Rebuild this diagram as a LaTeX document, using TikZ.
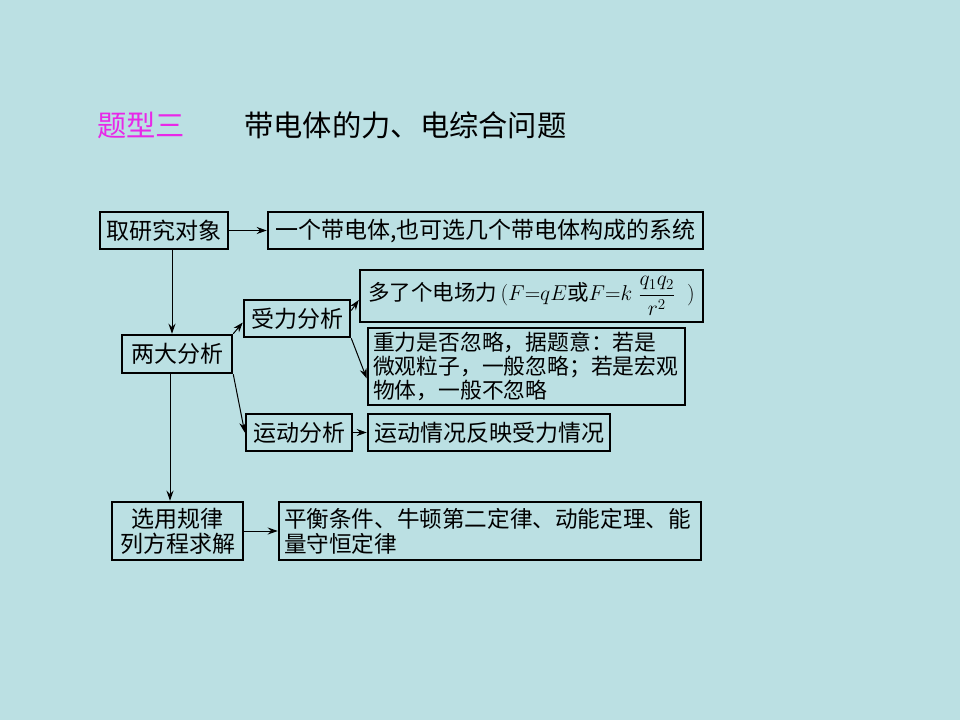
\RequirePackage{fix-cm}
\documentclass[tikz,border=0pt]{standalone}
\usepackage{amsmath}
\usepackage[no-math]{fontspec}
\setmainfont{Noto Sans CJK SC}
\usetikzlibrary{arrows.meta}
\definecolor{bg}{RGB}{187,224,227}
\definecolor{mag}{RGB}{232,40,232}
\begin{document}
\begin{tikzpicture}[x=1pt,y=-1pt,
  bx/.style={draw, line width=2.5pt, inner xsep=5pt, inner ysep=0pt, font=\fontsize{23}{25}\selectfont},
  arr/.style={line width=1pt, -{Stealth[length=10pt,width=7pt]}},
  ttl/.style={anchor=west, inner sep=0pt, font=\fontsize{29.3}{30}\selectfont}]
\fill[bg] (0,0) rectangle (960,720);
\useasboundingbox (0,0) rectangle (960,720);

\node[ttl, text=mag] (t1) at (97,125) {题型三};
\node[ttl] (t2) at (244,125) {带电体的力、电综合问题};

\node[bx, minimum width=128pt, minimum height=37pt] (a) at (164,230.5) {取研究对象};
\node[bx, minimum width=435pt, minimum height=37pt] (b) at (485.5,230.5) {一个带电体,也可选几个带电体构成的系统};
\node[bx, minimum width=110pt, minimum height=38pt] (c) at (177,354) {两大分析};
\node[bx, minimum width=106pt, minimum height=37pt] (d) at (297,318.5) {受力分析};
\node[bx, minimum width=343pt, minimum height=52pt, inner xsep=3pt, text width=335pt, align=left,
  font=\fontsize{21.5}{25}\selectfont] (e) at (531.5,296)
  {\hspace*{4pt}多了个电场力\,$(F{=}qE\text{或}F{=}k\;\dfrac{q_1q_2}{r^2}\;\;)$};
\node[bx, minimum width=317pt, minimum height=77pt, text width=307pt, align=left,
  font=\fontsize{21.8}{24}\selectfont] (f) at (526.5,366.5)
  {重力是否忽略，据题意：若是\\微观粒子，一般忽略；若是宏观\\物体，一般不忽略};
\node[bx, minimum width=106pt, minimum height=37pt] (g) at (299,432.5) {运动分析};
\node[bx, minimum width=242pt, minimum height=37pt] (h) at (489,432.5) {运动情况反映受力情况};
\node[bx, minimum width=131pt, minimum height=58pt, align=center] (i) at (177.5,531) {选用规律\\列方程求解};
\node[bx, minimum width=422pt, minimum height=58pt, text width=412pt, align=left,
  font=\fontsize{22.6}{25}\selectfont] (j) at (490,531)
  {平衡条件、牛顿第二定律、动能定理、能\\量守恒定律};

\draw[arr] (a) -- (b);
\draw[arr] ([xshift=8pt]a.south) -- ([xshift=8pt]a.south |- c.north);
\draw[arr] (c.north east) -- ([yshift=-4pt]d.west);
\draw[arr] (c.south east) -- (g.west);
\draw[arr] ([yshift=8pt]d.east) -- ([yshift=-4pt]e.west);
\draw[arr] (d.south east) -- ([yshift=-12pt]f.west);
\draw[arr] (g) -- (h);
\draw[arr] ([xshift=-7pt]c.south) -- ([xshift=-7pt]c.south |- i.north);
\draw[arr] (i) -- (j);
\end{tikzpicture}
\end{document}
